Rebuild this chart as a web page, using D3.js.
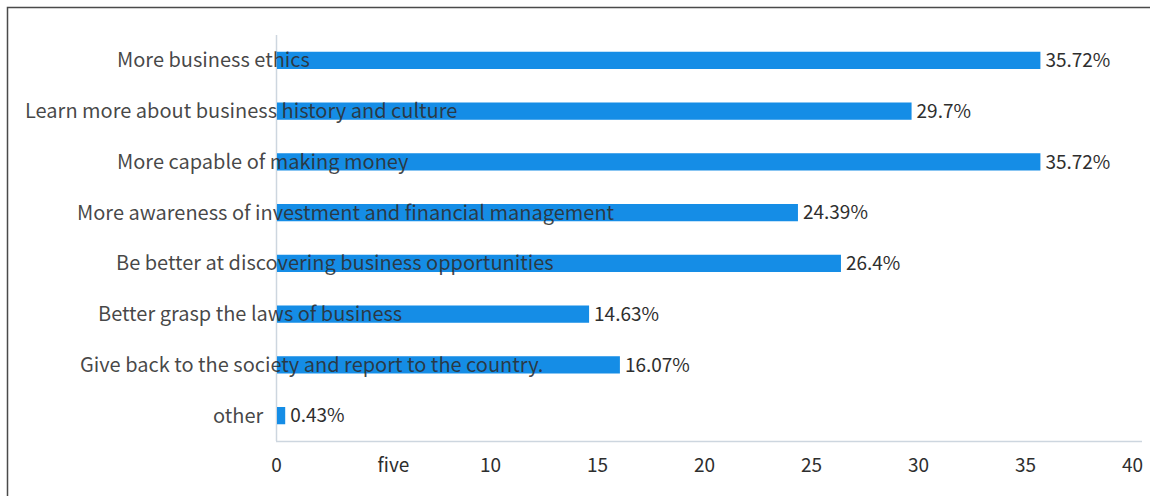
<!DOCTYPE html>
<html>
<head>
<meta charset="utf-8">
<script src="https://cdn.jsdelivr.net/npm/d3@7"></script>
<style>
  html, body { margin: 0; padding: 0; background: #fff; }
  svg { display: block; }
  text { font-family: "Noto Sans CJK SC", "Noto Sans", sans-serif; }
</style>
</head>
<body>
<svg id="chart" width="1150" height="496"></svg>
<script>
// Survey answers and their shares (%)
const categories = [
  "More business ethics",
  "Learn more about business history and culture",
  "More capable of making money",
  "More awareness of investment and financial management",
  "Be better at discovering business opportunities",
  "Better grasp the laws of business",
  "Give back to the society and report to the country.",
  "other"
];
const values = [35.72, 29.7, 35.72, 24.39, 26.4, 14.63, 16.07, 0.43];
const valueLabels = ["35.72%", "29.7%", "35.72%", "24.39%", "26.4%", "14.63%", "16.07%", "0.43%"];
const tickValues = [0, 5, 10, 15, 20, 25, 30, 35, 40];
const tickLabels = ["0", "five", "10", "15", "20", "25", "30", "35", "40"];

// Where each category caption starts (pixels from the left edge)
const labelStart = [117, 25, 117, 77, 116, 98, 80, 213];

const W = 1150, H = 496;
const plot = { left: 276, right: 1132, top: 35, bottom: 441 };
const barColor = "#158de6";
const textColor = "#2e2e2e";
const axisColor = "#cdd6df";

const svg = d3.select("#chart");

const x = d3.scaleLinear().domain([0, 40]).range([plot.left, plot.right]);
const y = d3.scaleBand().domain(categories)
  .range([plot.top, plot.bottom])
  .paddingInner(0.66).paddingOuter(0.33);

// outer frame (top and left edges)
svg.append("path")
  .attr("d", `M7.5,${H} V7.5 H${W}`)
  .attr("fill", "none").attr("stroke", "#4a4a4a").attr("stroke-width", 1.5);

// axis lines
svg.append("line")
  .attr("x1", plot.left).attr("x2", plot.right + 10)
  .attr("y1", plot.bottom + 0.5).attr("y2", plot.bottom + 0.5)
  .attr("stroke", axisColor).attr("stroke-width", 1.5);
svg.append("line")
  .attr("x1", plot.left + 0.5).attr("x2", plot.left + 0.5)
  .attr("y1", plot.top).attr("y2", plot.bottom)
  .attr("stroke", axisColor).attr("stroke-width", 1.5);

// bars
svg.append("g").selectAll("rect")
  .data(values)
  .join("rect")
  .attr("x", x(0) + 1)
  .attr("y", (d, i) => y(categories[i]))
  .attr("width", d => x(d) - x(0) - 1)
  .attr("height", y.bandwidth())
  .attr("fill", barColor);

// category captions, drawn over the bars
svg.append("g").selectAll("text")
  .data(categories)
  .join("text")
  .attr("x", (d, i) => labelStart[i])
  .attr("y", d => y(d) + y.bandwidth() / 2)
  .attr("dy", "0.35em")
  .attr("font-size", 20)
  .attr("fill", textColor)
  .attr("fill-opacity", 0.88)
  .text(d => d);

// value labels
svg.append("g").selectAll("text")
  .data(values)
  .join("text")
  .attr("x", d => x(d) + 5)
  .attr("y", (d, i) => y(categories[i]) + y.bandwidth() / 2)
  .attr("dy", "0.35em")
  .attr("font-size", 19)
  .attr("fill", textColor)
  .text((d, i) => valueLabels[i]);

// bottom axis tick labels
const xAxis = d3.axisBottom(x)
  .tickValues(tickValues)
  .tickSize(0)
  .tickPadding(18)
  .tickFormat((d, i) => tickLabels[i]);
const gx = svg.append("g")
  .attr("transform", `translate(0,${plot.bottom})`)
  .call(xAxis);
gx.select(".domain").remove();
gx.selectAll("text")
  .attr("font-size", 19)
  .attr("font-family", "'Noto Sans CJK SC', sans-serif")
  .attr("fill", textColor)
  // spelled-out labels start where the numeral would begin
  .attr("text-anchor", (d, i) => isNaN(+tickLabels[i]) ? "start" : "middle")
  .attr("x", (d, i) => isNaN(+tickLabels[i]) ? -6 : 0);
</script>
</body>
</html>
